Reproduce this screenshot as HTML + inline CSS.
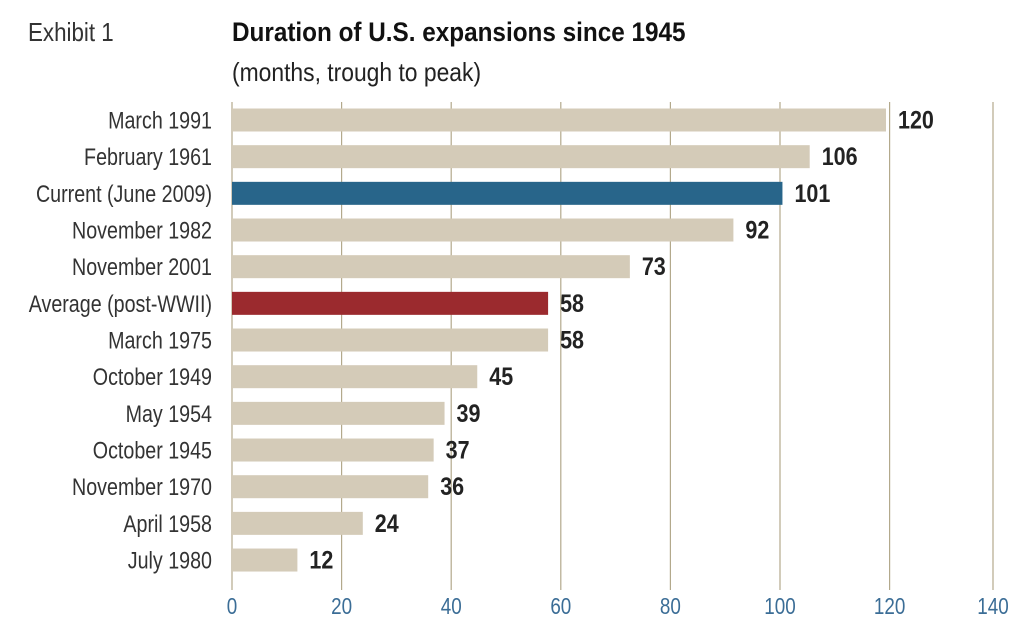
<!DOCTYPE html>
<html><head><meta charset="utf-8"><style>
body{margin:0;background:#fff;width:1024px;height:627px;overflow:hidden;}
svg text{font-family:"Liberation Sans",sans-serif;}
</style></head><body>
<svg width="1024" height="627" xmlns="http://www.w3.org/2000/svg">
<text transform="translate(28,41) scale(0.86,1)" font-size="26" fill="#333">Exhibit 1</text>
<text transform="translate(232,41) scale(0.9,1)" font-size="27" font-weight="bold" fill="#111">Duration of U.S. expansions since 1945</text>
<text transform="translate(232,81) scale(0.88,1)" font-size="26" fill="#222">(months, trough to peak)</text>
<g stroke="#b3a98c" stroke-width="1.2">
<line x1="232" y1="102" x2="232" y2="590"/><line x1="341.6" y1="102" x2="341.6" y2="590"/>
<line x1="451.2" y1="102" x2="451.2" y2="590"/><line x1="560.8" y1="102" x2="560.8" y2="590"/>
<line x1="670.4" y1="102" x2="670.4" y2="590"/><line x1="780" y1="102" x2="780" y2="590"/>
<line x1="889.6" y1="102" x2="889.6" y2="590"/><line x1="993" y1="102" x2="993" y2="590"/>
</g>
<g id="bars"></g>
<g id="ticks" fill="#3b6d96" font-size="23" text-anchor="middle"></g>
</svg>
<script>
var d=[["March 1991",120,"#d4cbb8"],["February 1961",106,"#d4cbb8"],["Current (June 2009)",101,"#28658a"],["November 1982",92,"#d4cbb8"],["November 2001",73,"#d4cbb8"],["Average (post-WWII)",58,"#9b2a2e"],["March 1975",58,"#d4cbb8"],["October 1949",45,"#d4cbb8"],["May 1954",39,"#d4cbb8"],["October 1945",37,"#d4cbb8"],["November 1970",36,"#d4cbb8"],["April 1958",24,"#d4cbb8"],["July 1980",12,"#d4cbb8"]];
var s="";
d.forEach(function(r,i){var c=120+36.67*i,w=r[1]*5.45;
s+='<rect x="232" y="'+(c-11.5)+'" width="'+w+'" height="23" fill="'+r[2]+'"/>';
s+='<text transform="translate(212,'+(c+8.5)+') scale(0.82,1)" text-anchor="end" font-size="24" fill="#333">'+r[0]+'</text>';
s+='<text transform="translate('+(232+w+12)+','+(c+8.5)+') scale(0.86,1)" font-size="25" font-weight="bold" fill="#222">'+r[1]+'</text>';});
document.getElementById("bars").innerHTML=s;
var t="",xs=[232,341.6,451.2,560.8,670.4,780,889.6,993];
xs.forEach(function(x,i){t+='<text transform="translate('+x+',614) scale(0.82,1)">'+(i*20)+'</text>';});
document.getElementById("ticks").innerHTML=t;
</script>
</body></html>
